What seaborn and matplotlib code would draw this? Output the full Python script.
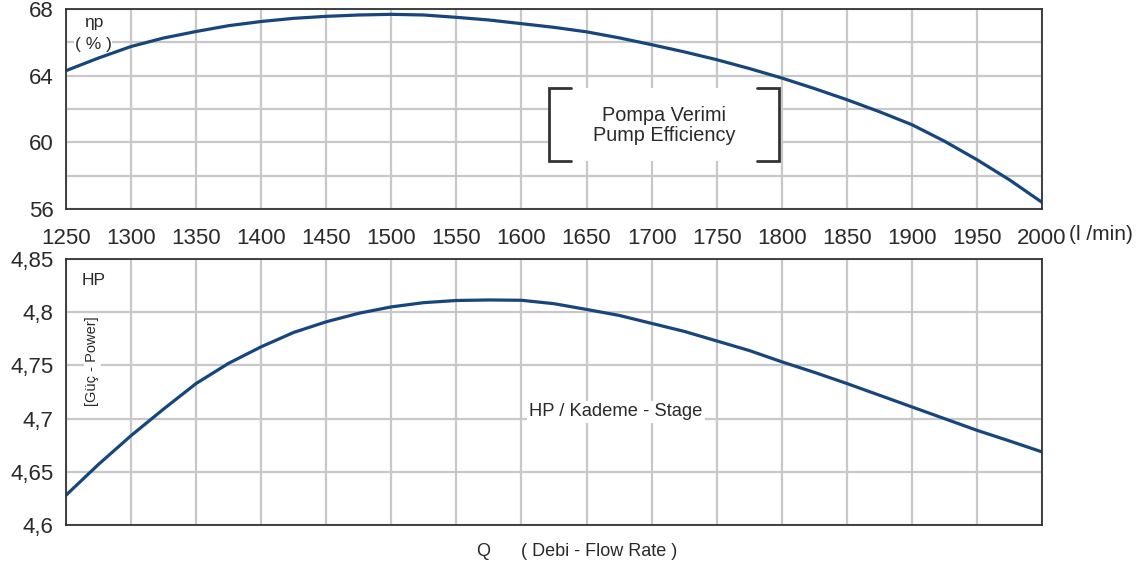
import numpy as np
import pandas as pd
import matplotlib
matplotlib.use("Agg")
import matplotlib.pyplot as plt
import seaborn as sns
from matplotlib.lines import Line2D
from matplotlib.patches import Rectangle

# ---- data ----
flow = [1250, 1275, 1300, 1325, 1350, 1375, 1400, 1425, 1450, 1475, 1500,
        1525, 1550, 1575, 1600, 1625, 1650, 1675, 1700, 1725, 1750,
        1775, 1800, 1825, 1850, 1875, 1900, 1925, 1950, 1975, 2000]
efficiency = [64.3, 65.06, 65.75, 66.26, 66.65, 67.0, 67.25, 67.44, 67.56, 67.64, 67.68,
              67.64, 67.5, 67.34, 67.12, 66.9, 66.63, 66.27, 65.86, 65.43, 64.96,
              64.43, 63.86, 63.23, 62.56, 61.84, 61.06, 60.07, 58.96, 57.75, 56.4]
power = [4.628, 4.657, 4.684, 4.709, 4.733, 4.752, 4.7675, 4.781, 4.791, 4.799, 4.805,
         4.809, 4.811, 4.8115, 4.8112, 4.808, 4.8026, 4.797, 4.7895, 4.782, 4.773,
         4.764, 4.7534, 4.7435, 4.733, 4.722, 4.711, 4.700, 4.689, 4.679, 4.6687]

x_ticks = [1250, 1300, 1350, 1400, 1450, 1500, 1550, 1600,
           1650, 1700, 1750, 1800, 1850, 1900, 1950, 2000]
eff_ticks = [56, 60, 64, 68]
eff_grid = [58, 62, 66]
pow_ticks = [4.6, 4.65, 4.7, 4.75, 4.8, 4.85]
pow_tick_labels = ["4,6", "4,65", "4,7", "4,75", "4,8", "4,85"]

df_eff = pd.DataFrame({"Q": flow, "eff": efficiency})
df_pow = pd.DataFrame({"Q": flow, "hp": power})

sns.set_style("white")
plt.rcParams["font.family"] = ["Liberation Sans", "DejaVu Sans"]

LINE = "#17467c"
GRID = "#c8c8c8"
SPINE = "#333333"
TXT = "#2a2a2a"

fig = plt.figure(figsize=(11.39, 5.67), dpi=100)
ax1 = fig.add_axes([66 / 1139, 1 - 209 / 567, 976 / 1139, 200 / 567])
ax2 = fig.add_axes([66 / 1139, 1 - 525 / 567, 976 / 1139, 266 / 567])

for ax in (ax1, ax2):
    ax.set_xlim(1250, 2000)
    ax.set_xticks(x_ticks)
    ax.grid(True, color=GRID, linewidth=1.6, zorder=0)
    ax.set_axisbelow(True)
    for s in ax.spines.values():
        s.set_color(SPINE)
        s.set_linewidth(1.3)
        s.set_zorder(5)
    ax.tick_params(length=0, labelsize=16, colors=TXT)

# top: efficiency
sns.lineplot(data=df_eff, x="Q", y="eff", ax=ax1, color=LINE, linewidth=2.3, zorder=4)
ax1.set_ylim(56, 68)
ax1.set_yticks(eff_ticks)
ax1.set_yticks(eff_grid, minor=True)
ax1.grid(True, which="minor", axis="y", color=GRID, linewidth=1.6)
ax1.tick_params(axis="y", which="minor", length=0)
ax1.tick_params(axis="y", pad=9)
ax1.tick_params(axis="x", pad=14)
ax1.set_xlabel("")
ax1.set_ylabel("")

# top annotations
ax1.text(0.028, 0.935, "ηp", transform=ax1.transAxes, ha="center", va="center",
         fontsize=12.5, color=TXT, zorder=6,
         bbox=dict(facecolor="white", edgecolor="none", pad=0.5))
ax1.text(0.028, 0.825, "( % )", transform=ax1.transAxes, ha="center", va="center",
         fontsize=12.5, color=TXT, zorder=6,
         bbox=dict(facecolor="white", edgecolor="none", pad=0.5))

bx0, bx1 = (549 - 66) / 976, (779 - 66) / 976
by0, by1 = (209 - 161) / 200, (209 - 88) / 200
arm = 22 / 976
ax1.add_patch(Rectangle((bx0, by0), bx1 - bx0, by1 - by0, transform=ax1.transAxes,
                        facecolor="white", edgecolor="none", zorder=3))
for xs, ys in (([bx0 + arm, bx0, bx0, bx0 + arm], [by1, by1, by0, by0]),
               ([bx1 - arm, bx1, bx1, bx1 - arm], [by1, by1, by0, by0])):
    ax1.add_line(Line2D(xs, ys, transform=ax1.transAxes, color=SPINE,
                        linewidth=2.0, zorder=6, solid_joinstyle="miter"))
ax1.text((bx0 + bx1) / 2, (by0 + by1) / 2 - 0.005, "Pompa Verimi\nPump Efficiency",
         transform=ax1.transAxes, ha="center", va="center", fontsize=14.3,
         color=TXT, zorder=7, linespacing=1.12)

fig.text(1069 / 1139, 1 - 235 / 567, "(l /min)", ha="left", va="center",
         fontsize=15, color=TXT)

# bottom: power
sns.lineplot(data=df_pow, x="Q", y="hp", ax=ax2, color=LINE, linewidth=2.3, zorder=4)
ax2.set_ylim(4.6, 4.85)
ax2.set_yticks(pow_ticks)
ax2.set_yticklabels(pow_tick_labels)
ax2.tick_params(axis="y", pad=9)
ax2.set_xticklabels([])
ax2.set_xlabel("")
ax2.set_ylabel("")

ax2.text(0.028, 0.92, "HP", transform=ax2.transAxes, ha="center", va="center",
         fontsize=12.5, color=TXT, zorder=6)
ax2.text(0.027, 0.615, "[Güç - Power]", transform=ax2.transAxes, ha="center",
         va="center", rotation=90, fontsize=10.5, color=TXT, zorder=6,
         bbox=dict(facecolor="white", edgecolor="none", pad=1))
ax2.text((616 - 66) / 976, (525 - 412) / 266, "HP / Kademe - Stage",
         transform=ax2.transAxes, ha="center", va="center", fontsize=13.2,
         color=TXT, zorder=6,
         bbox=dict(facecolor="white", edgecolor="none", pad=2))

fig.text(483 / 1139, 1 - 552 / 567, "Q", ha="center", va="center",
         fontsize=13, color=TXT)
fig.text(599 / 1139, 1 - 552 / 567, "( Debi - Flow Rate )", ha="center",
         va="center", fontsize=13, color=TXT)

fig.savefig("out.png", dpi=100, facecolor="white")
